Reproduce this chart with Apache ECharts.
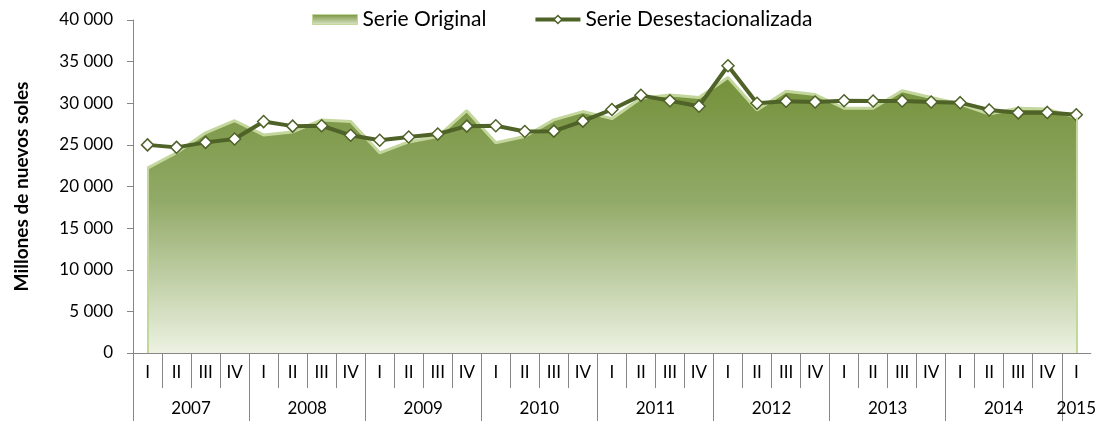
<!DOCTYPE html>
<html>
<head>
<meta charset="utf-8">
<script src="https://cdn.jsdelivr.net/npm/echarts@6/dist/echarts.min.js"></script>
<style>
html,body{margin:0;padding:0;background:#fff}
#chart{width:1099px;height:421px}
</style>
</head>
<body>
<div id="chart"></div>
<script>
// trimestres 2007 I - 2015 I
var quarters = ['I','II','III','IV','I','II','III','IV','I','II','III','IV','I','II','III','IV',
    'I','II','III','IV','I','II','III','IV','I','II','III','IV','I','II','III','IV','I'];
var years = ['2007','2007','2007','2007','2008','2008','2008','2008','2009','2009','2009','2009',
    '2010','2010','2010','2010','2011','2011','2011','2011','2012','2012','2012','2012',
    '2013','2013','2013','2013','2014','2014','2014','2014','2015'];
var original = [22200, 24050, 26450, 27900, 26200, 26550, 28000, 27800, 24050, 25350, 26000, 29100,
    25250, 26000, 28000, 29000, 28150, 30600, 31000, 30700, 33100, 29200, 31450, 31050,
    29400, 29400, 31500, 30700, 29900, 28700, 29400, 29300, 28300];
var desestacionalizada = [25000, 24700, 25300, 25700, 27800, 27250, 27300, 26150, 25550, 25950, 26300, 27250,
    27300, 26600, 26650, 27850, 29250, 30950, 30300, 29650, 34500, 30000, 30250, 30150,
    30300, 30270, 30270, 30150, 30070, 29200, 28850, 28900, 28620];

var n = quarters.length;
var FONT = 'Lato';
var AXIS = '#868686';
var GRID = {left: 133, right: 8, top: 20, bottom: 68};
var band = (1099 - GRID.left - GRID.right) / n;

// eje invertido solo para dibujar las separaciones (sin marca al final derecho)
var revIdx = quarters.map(function (q, i) { return String(n - 1 - i); });

function fmt(v) { return String(v).replace(/\B(?=(\d{3})+(?!\d))/g, ' '); }

function yearLabel(value) {
    var q = +value;
    var y = years[q];
    var s = years.indexOf(y);
    var k = years.lastIndexOf(y) - s + 1;
    var m = s + Math.floor((k - 1) / 2);
    if (q !== m) return '';
    var shift = k / 2 - (m - s) - 0.5;
    if (shift > 0) return '{s|' + y + '}';
    return y;
}

var chart = echarts.init(document.getElementById('chart'));
var option = {
    animation: false,
    backgroundColor: '#fff',
    textStyle: {fontFamily: FONT},
    grid: GRID,
    legend: {
        left: 312,
        top: 9,
        padding: 0,
        itemWidth: 45,
        itemHeight: 10,
        itemGap: 47,
        textStyle: {fontSize: 21, color: '#000', fontFamily: FONT},
        data: [
            {name: 'Serie Original', icon: 'rect', itemStyle: {
                color: new echarts.graphic.LinearGradient(0, 0, 0, 1, [
                    {offset: 0, color: '#76923c'}, {offset: 1, color: '#dfe8cc'}]),
                borderColor: '#c3d69b', borderWidth: 1}},
            {name: 'Serie Desestacionalizada', lineStyle: {width: 4, color: '#4f6228'},
                itemStyle: {color: '#fff', borderColor: '#4f6228', borderWidth: 1.5}}
        ]
    },
    xAxis: [
        {
            type: 'category', data: quarters, boundaryGap: true,
            axisLine: {lineStyle: {color: AXIS, width: 1}},
            axisTick: {show: false},
            axisLabel: {interval: 0, margin: 11, fontSize: 17, color: '#000'}
        },
        {
            type: 'category', data: revIdx, inverse: true, position: 'bottom', offset: -5,
            axisLine: {show: false},
            axisTick: {show: true, interval: function (j) { return j >= 1; }, length: 40, lineStyle: {color: AXIS}},
            axisLabel: {show: false}
        },
        {
            type: 'category', data: revIdx, inverse: true, position: 'bottom', offset: -5,
            axisLine: {show: false},
            axisTick: {show: true, interval: function (j) { return j >= 1 && (n - j) % 4 === 0; }, length: 73, lineStyle: {color: AXIS}},
            axisLabel: {
                interval: 0, margin: 52, fontSize: 17, color: '#000',
                formatter: yearLabel,
                rich: {s: {fontSize: 17, color: '#000', fontFamily: FONT, padding: [0, 0, 0, band]}}
            }
        }
    ],
    yAxis: {
        type: 'value', min: 0, max: 40000, interval: 5000,
        name: 'Millones de nuevos soles', nameLocation: 'middle', nameGap: 102,
        nameTextStyle: {fontWeight: 'bold', fontSize: 19, color: '#000', fontFamily: FONT},
        axisLine: {show: true, lineStyle: {color: AXIS}},
        axisTick: {show: true, length: 6, lineStyle: {color: AXIS}},
        splitLine: {show: false},
        axisLabel: {margin: 20, fontSize: 17, color: '#000', formatter: fmt}
    },
    series: [
        {
            name: 'Serie Original', type: 'line', data: original, symbol: 'none', z: 1,
            lineStyle: {color: '#c3d69b', width: 3},
            itemStyle: {color: '#76923c'},
            areaStyle: {opacity: 1, color: new echarts.graphic.LinearGradient(0, 0, 0, 1, [
                {offset: 0, color: '#74913a'}, {offset: 0.45, color: '#92aa68'}, {offset: 1, color: '#edf2e2'}])},
            markLine: {
                silent: true, symbol: 'none', label: {show: false},
                lineStyle: {color: '#c3d69b', width: 2, type: 'solid'},
                data: [
                    [{coord: [0, 0]}, {coord: [0, original[0]]}],
                    [{coord: [n - 1, 0]}, {coord: [n - 1, original[n - 1]]}]
                ]
            }
        },
        {
            name: 'Serie Desestacionalizada', type: 'line', data: desestacionalizada, z: 3,
            symbol: 'diamond', symbolSize: 12, showAllSymbol: true,
            lineStyle: {color: '#4f6228', width: 4},
            itemStyle: {color: '#ffffff', borderColor: '#4f6228', borderWidth: 1.5}
        }
    ]
};
chart.setOption(option);
</script>
</body>
</html>
